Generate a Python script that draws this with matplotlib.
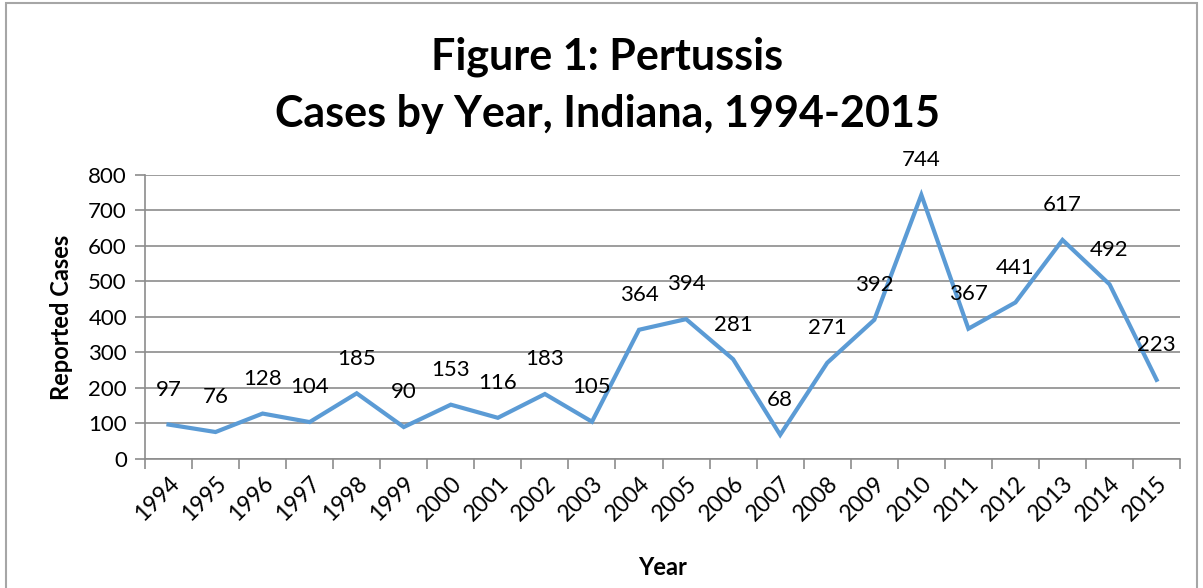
import numpy as np
import matplotlib.pyplot as plt
from matplotlib.patches import Rectangle

years = [str(y) for y in range(1994, 2016)]
cases = [97, 76, 128, 104, 185, 90, 153, 116, 183, 105, 364,
         394, 281, 68, 271, 392, 744, 367, 441, 617, 492, 223]

plt.rcParams['font.family'] = ['Lato', 'DejaVu Sans']

fig = plt.figure(figsize=(12.03, 5.88), dpi=100)
ax = fig.add_axes([0.1205, 0.2194, 0.8605, 0.483])

x = np.arange(len(years))
ax.plot(x, cases, color="#5B9BD5", linewidth=3, solid_joinstyle="miter")

# value labels sit above each point
for xi, v in zip(x, cases):
    ax.annotate(str(v), (xi, v), xytext=(0, 25), textcoords="offset points",
                ha="center", va="center", fontsize=16, color="black")

ax.set_xlim(-0.5, len(years) - 0.5)
ax.set_ylim(0, 800)
ax.set_yticks(range(0, 801, 100))
ax.yaxis.grid(True, color="#8c8c8c", linewidth=1.2)
ax.set_axisbelow(True)

# category ticks fall between the years
ax.set_xticks(np.arange(-0.5, len(years), 1.0))
ax.set_xticklabels([])
ax.set_xticks(x, minor=True)
ax.set_xticklabels(years, minor=True, rotation=45, ha="right", va="top",
                   rotation_mode="anchor", fontsize=16.5)
ax.tick_params(axis="x", which="minor", length=0, pad=10)
ax.tick_params(axis="x", which="major", length=7, color="#8c8c8c", width=1.2)
ax.tick_params(axis="y", length=7, color="#8c8c8c", width=1.2, labelsize=16, pad=6)

for side in ["top", "right"]:
    ax.spines[side].set_visible(False)
for side in ["left", "bottom"]:
    ax.spines[side].set_color("#8c8c8c")
    ax.spines[side].set_linewidth(1.2)

ax.set_ylabel("Reported Cases", fontsize=17, fontweight="bold", labelpad=11)
fig.text(0.5505, 0.035, "Year", ha="center", va="center", fontsize=17, fontweight="bold")

fig.text(0.505, 0.903, "Figure 1: Pertussis", ha="center", va="center",
         fontsize=31, fontweight="bold")
fig.text(0.505, 0.806, "Cases by Year, Indiana, 1994-2015", ha="center", va="center",
         fontsize=31, fontweight="bold")

# chart frame
fig.patches.append(Rectangle((0.005, -0.01), 0.99, 1.005, transform=fig.transFigure,
                             fill=False, edgecolor="#a6a6a6", linewidth=1.5))

fig.savefig("out.png", dpi=100)
